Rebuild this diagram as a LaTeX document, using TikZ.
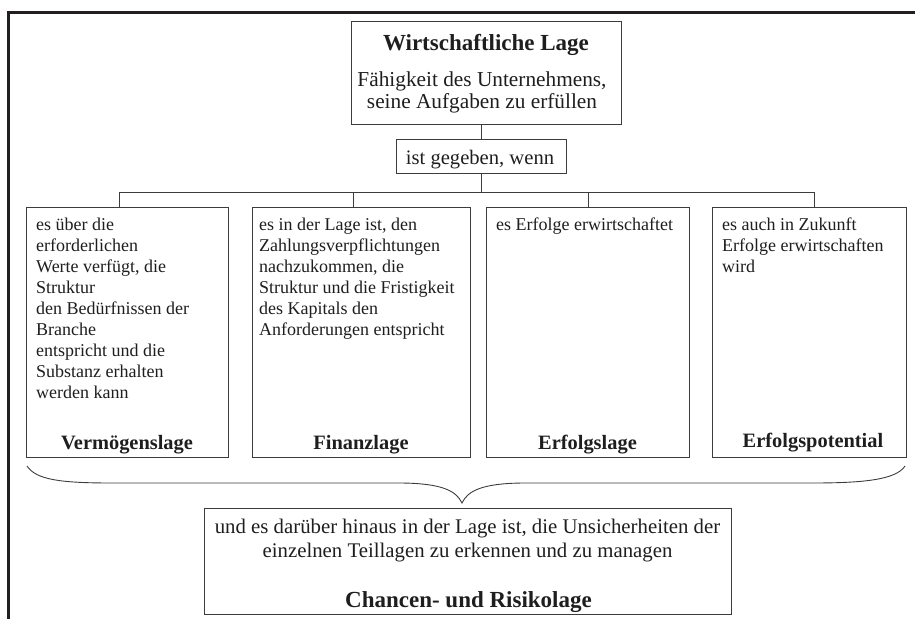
\documentclass[tikz,border=0pt]{standalone}
\usepackage{fontspec}
\setmainfont{Liberation Serif}
\definecolor{frameink}{HTML}{231F20}
\definecolor{lineink}{HTML}{3C3C3C}
\definecolor{textink}{HTML}{1E1E1E}
\newcommand\condtext{\fontsize{18}{21}\selectfont}
\newcommand\headtext{\fontsize{21.3}{23}\selectfont}
\begin{document}
\begin{tikzpicture}[x=1pt,y=-1pt,
  panel/.style={draw=lineink, line width=0.9pt, rectangle, inner sep=0pt, anchor=north west},
  wire/.style={draw=lineink, line width=0.9pt},
  cond/.style={anchor=north west, inner sep=0pt, align=left, text=textink, font=\condtext},
  caption/.style={anchor=base, inner sep=0pt, text=textink, font=\fontsize{20.4}{22}\selectfont\bfseries},
  bigcaption/.style={anchor=base, inner sep=0pt, text=textink, font=\fontsize{23}{25}\selectfont\bfseries},
  plain/.style={anchor=base, inner sep=0pt, text=textink, font=\headtext}]
\useasboundingbox (0,0) rectangle (915,619);
% open outer frame
\draw[frameink, line width=3pt] (915,12.3) -- (8.7,12.3) -- (8.7,619);

% heading box
\node[panel, minimum width=270pt, minimum height=103pt] (lage) at (351,21) {};
\node[bigcaption] (lagetitle) at (486,50) {Wirtschaftliche Lage};
\node[plain] (lage1) at (482,86) {Fähigkeit des Unternehmens,};
\node[plain] (lage2) at (482,108) {seine Aufgaben zu erfüllen};

% "ist gegeben, wenn"
\node[panel, minimum width=170pt, minimum height=34pt] (wenn) at (396,139) {};
\node[plain, font=\fontsize{20.6}{22}\selectfont] (wenntext) at (480,164.5) {ist gegeben, wenn};

% four partial positions
\node[panel, minimum width=202pt, minimum height=250pt] (verm) at (26,207) {};
\node[panel, minimum width=218pt, minimum height=250pt] (fin) at (252,207) {};
\node[panel, minimum width=203pt, minimum height=250pt] (erf) at (486,207) {};
\node[panel, minimum width=194pt, minimum height=250pt] (pot) at (712,207) {};

\node[cond] (vermtext) at (36,215.3) {\strut es über die\\erforderlichen\\Werte verfügt, die\\Struktur\\den Bedürfnissen der\\Branche\\entspricht und die\\Substanz erhalten\\werden kann};
\node[cond] (fintext) at (259,215.3) {\strut es in der Lage ist, den\\Zahlungsverpflichtungen\\nachzukommen, die\\Struktur und die Fristigkeit\\des Kapitals den\\Anforderungen entspricht};
\node[cond] (erftext) at (496,215.3) {\strut es Erfolge erwirtschaftet};
\node[cond] (pottext) at (722,215.3) {\strut es auch in Zukunft\\Erfolge erwirtschaften\\wird};

\node[caption] (vermcap) at (127,449) {Vermögenslage};
\node[caption] (fincap) at (361,449) {Finanzlage};
\node[caption] (erfcap) at (587.5,449) {Erfolgslage};
\node[caption] (potcap) at (813,447) {Erfolgspotential};

% bottom box
\node[panel, minimum width=527pt, minimum height=106pt] (risk) at (204,508) {};
\node[plain, font=\fontsize{20.8}{23}\selectfont] (risk1) at (467.5,533) {und es darüber hinaus in der Lage ist, die Unsicherheiten der};
\node[plain, font=\fontsize{20.8}{23}\selectfont] (risk2) at (467.5,557) {einzelnen Teillagen zu erkennen und zu managen};
\node[bigcaption] (riskcap) at (468.5,607) {Chancen- und Risikolage};

% connectors
\coordinate (busL) at (119,192);
\coordinate (busR) at (814,192);
\coordinate (drop2) at (353,192);
\coordinate (drop3) at (588,192);
\coordinate (junction) at (wenn.south |- busL);
\draw[wire] (lage.south -| wenn.south) -- (wenn.north);
\draw[wire] (wenn.south) -- (junction);
\draw[wire] (busL) -- (busR);
\draw[wire] (busL) -- (busL |- verm.north);
\draw[wire] (drop2) -- (drop2 |- fin.north);
\draw[wire] (drop3) -- (drop3 |- erf.north);
\draw[wire] (busR) -- (busR |- pot.north);

% curly brace gathering the four positions
\coordinate (braceL) at (27,466);
\coordinate (braceR) at (905,466);
\coordinate (tip) at (462,503);
\draw[wire] (braceL) .. controls (36,480) and (62,483) .. (112,483)
  -- (402,483) .. controls (440,483.5) and (456,490) .. (tip)
  .. controls (468,490) and (484,483.5) .. (522,483)
  -- (812,483) .. controls (862,483) and (896,480) .. (braceR);
\end{tikzpicture}
\end{document}
